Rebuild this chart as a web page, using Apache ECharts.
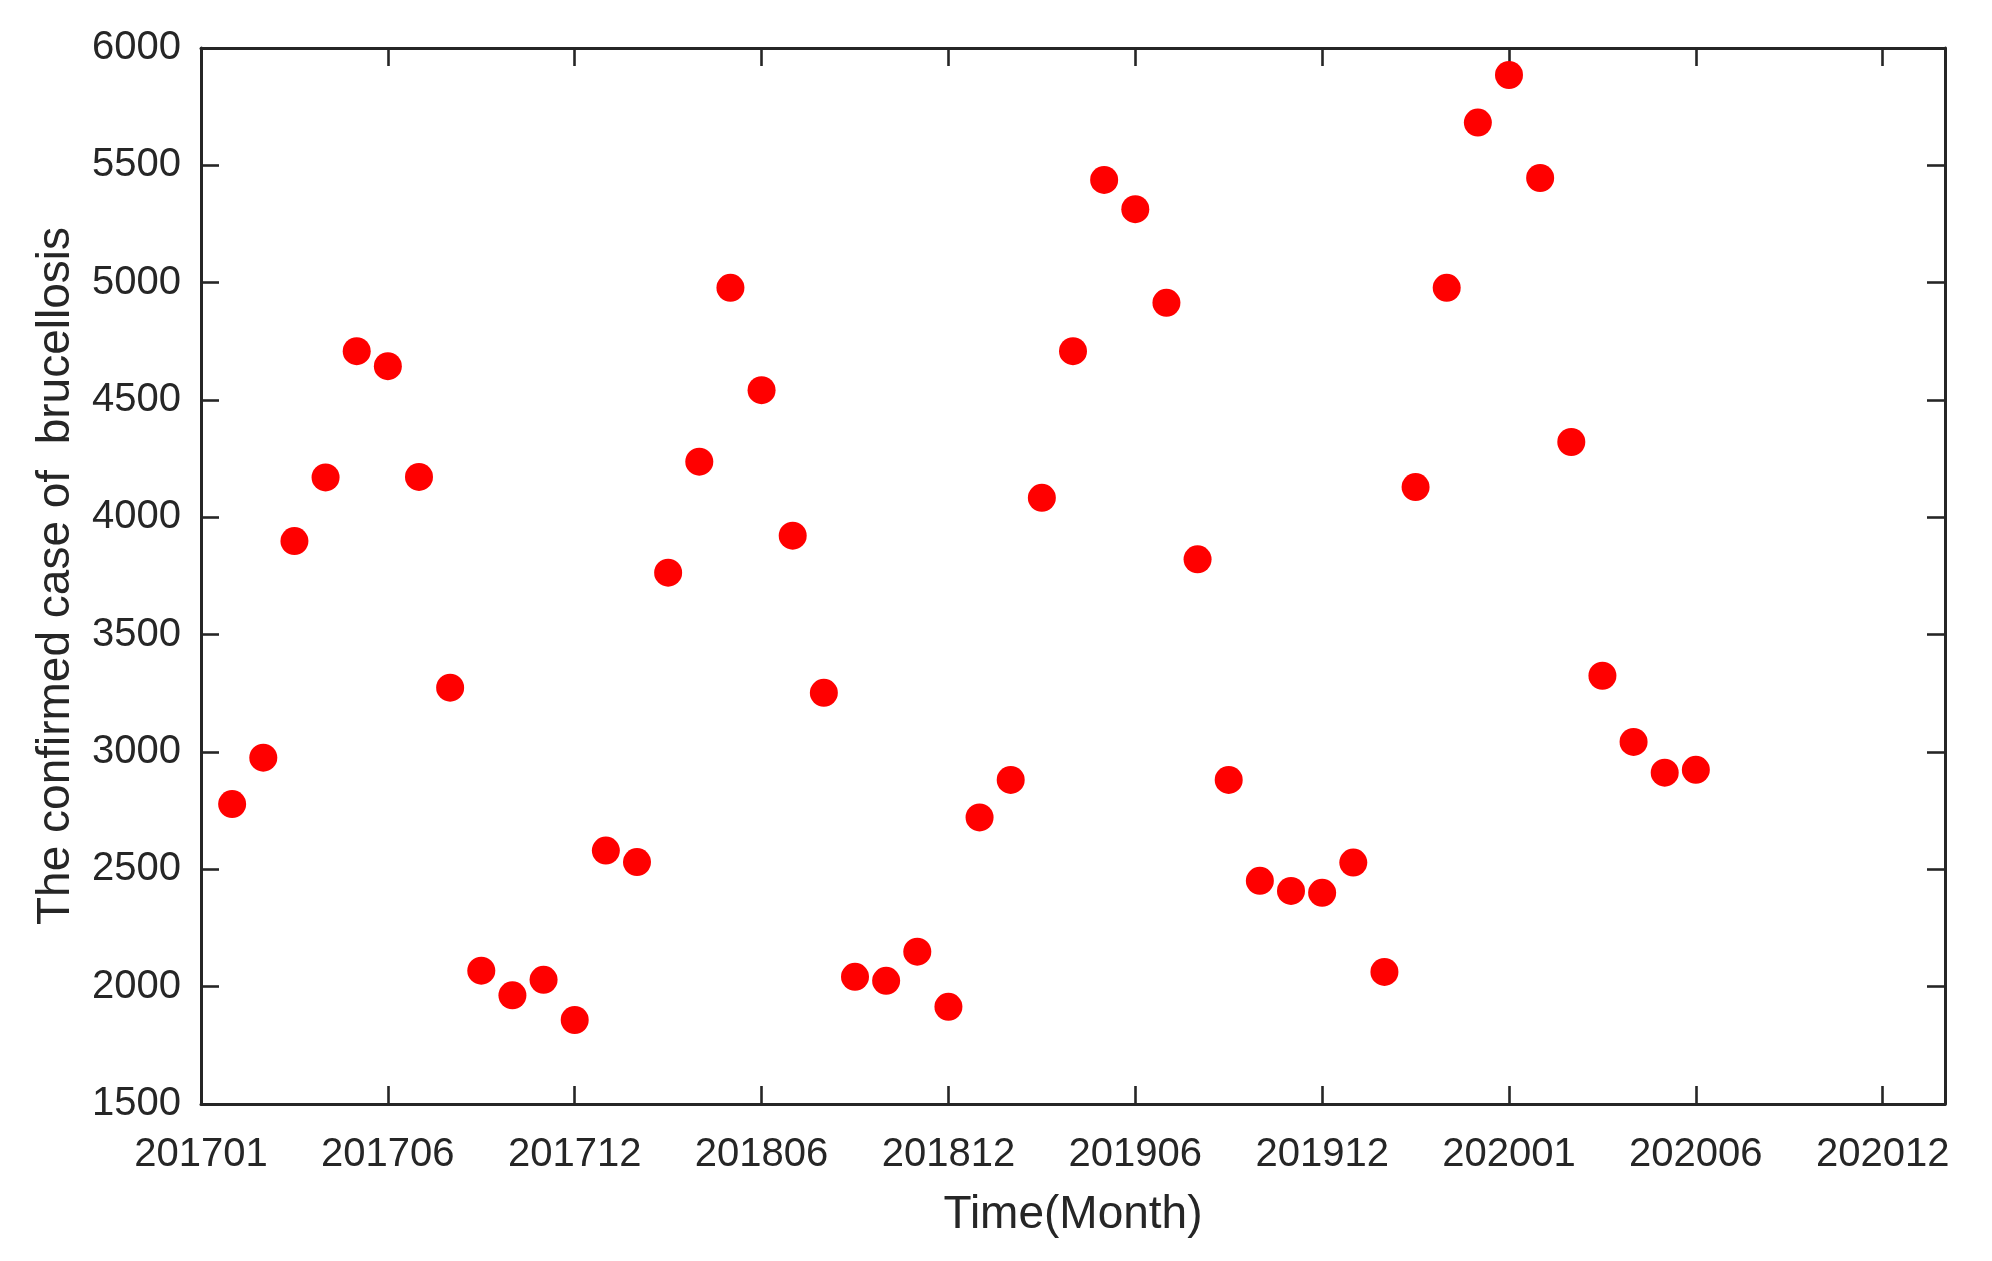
<!DOCTYPE html>
<html>
<head>
<meta charset="utf-8">
<style>
  html, body { margin: 0; padding: 0; background: #ffffff; }
  #chart { width: 1992px; height: 1261px; }
</style>
<script src="https://cdn.jsdelivr.net/npm/echarts@6/dist/echarts.min.js"></script>
</head>
<body>
<div id="chart"></div>
<script>
// Monthly confirmed cases, plotted at positions 1..48
const confirmedCases = [
  2778, 2976, 3899, 4170, 4708, 4644, 4172, 3274, 2068, 1963, 2029, 1858,
  2580, 2531, 3764, 4237, 4978, 4542, 3922, 3252, 2042, 2025, 2149, 1914,
  2721, 2881, 4083, 4708, 5438, 5313, 4914, 3821, 2881, 2451, 2408, 2400,
  2529, 2063, 4129, 4978, 5682, 5885, 5446, 4321, 3325, 3043, 2912, 2924
];
// x tick labels (as printed in the reference), one every 6 positions starting at 0
const xTickLabels = ['201701', '201706', '201712', '201806', '201812', '201906', '201912', '202001', '202006', '202012'];
const xTickStep = 6;
const xMin = 0, xMax = 56;
const yMin = 1500, yMax = 6000, yStep = 500;
const xTitle = 'Time(Month)';
const yTitle = 'The confirmed case of  brucellosis';

const points = confirmedCases.map((v, i) => [i + 1, v]);

const FONT = '"Liberation Sans", Arial, Helvetica, sans-serif';
const INK = '#262626';

const lineStyle = { color: INK, width: 3 };
const tickStyle = { color: INK, width: 2.6 };

const chart = echarts.init(document.getElementById('chart'), null, { renderer: 'canvas' });
chart.setOption({
  backgroundColor: '#ffffff',
  animation: false,
  grid: { left: 201, top: 48, right: 47, bottom: 157, containLabel: false },
  xAxis: [
    {
      type: 'value', min: xMin, max: xMax, interval: xTickStep, position: 'bottom',
      axisLine: { show: true, onZero: false, lineStyle: lineStyle },
      axisTick: { show: true, inside: true, length: 18, lineStyle: tickStyle },
      splitLine: { show: false },
      axisLabel: {
        show: true, margin: 31, color: INK, fontFamily: FONT, fontSize: 40,
        formatter: function (v) {
          if (v % xTickStep !== 0) return '';
          const k = v / xTickStep;
          return xTickLabels[k] !== undefined ? xTickLabels[k] : '';
        }
      },
      name: xTitle, nameLocation: 'middle', nameGap: 88,
      nameTextStyle: { color: INK, fontFamily: FONT, fontSize: 46 }
    },
    {
      type: 'value', min: xMin, max: xMax, interval: xTickStep, position: 'top',
      axisLine: { show: true, onZero: false, lineStyle: lineStyle },
      axisTick: { show: true, inside: true, length: 18, lineStyle: tickStyle },
      splitLine: { show: false },
      axisLabel: { show: false }
    }
  ],
  yAxis: [
    {
      type: 'value', min: yMin, max: yMax, interval: yStep, position: 'left',
      axisLine: { show: true, onZero: false, lineStyle: lineStyle },
      axisTick: { show: true, inside: true, length: 18, lineStyle: tickStyle },
      splitLine: { show: false },
      axisLabel: {
        show: true, margin: 20, color: INK, fontFamily: FONT, fontSize: 40,
        formatter: function (v) { return String(v); }
      },
      name: yTitle, nameLocation: 'middle', nameGap: 122, nameRotate: 90,
      nameTextStyle: { color: INK, fontFamily: FONT, fontSize: 46 }
    },
    {
      type: 'value', min: yMin, max: yMax, interval: yStep, position: 'right',
      axisLine: { show: true, onZero: false, lineStyle: lineStyle },
      axisTick: { show: true, inside: true, length: 18, lineStyle: tickStyle },
      splitLine: { show: false },
      axisLabel: { show: false }
    }
  ],
  series: [
    {
      type: 'scatter',
      xAxisIndex: 0, yAxisIndex: 0,
      data: points,
      symbol: 'circle',
      symbolSize: 28,
      itemStyle: { color: '#ff0000', opacity: 1 }
    }
  ]
});
</script>
</body>
</html>
